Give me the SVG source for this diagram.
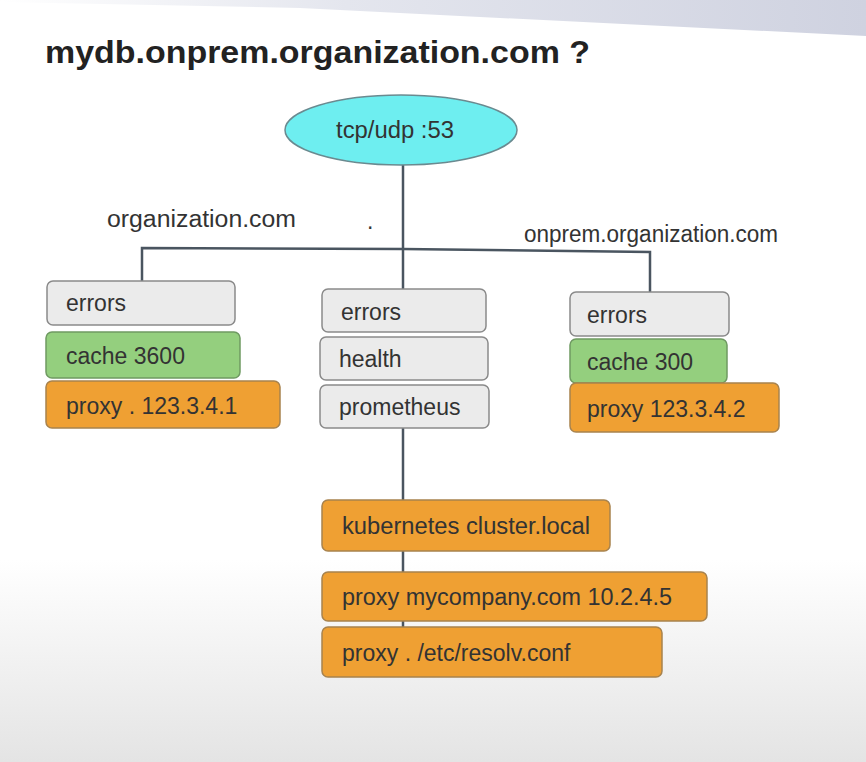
<svg xmlns="http://www.w3.org/2000/svg" width="866" height="762" viewBox="0 0 866 762">
<defs>
<linearGradient id="bot" x1="0" y1="0" x2="0" y2="1">
<stop offset="0" stop-color="#ffffff"/>
<stop offset="1" stop-color="#e4e4e4"/>
</linearGradient>
<linearGradient id="top" x1="0" y1="0" x2="1" y2="0">
<stop offset="0" stop-color="#ffffff"/>
<stop offset="0.4" stop-color="#e4e6ee"/>
<stop offset="1" stop-color="#cfd2e0"/>
</linearGradient>
<style>
.t{font-family:"Liberation Sans",Arial,sans-serif;font-size:23px;fill:#333}
.g{fill:#ebebeb;stroke:#8a8a8a;stroke-width:1.5}
.c{fill:#94cf7e;stroke:#6f9a62;stroke-width:1.5}
.o{fill:#efa033;stroke:#a8834e;stroke-width:1.5}
.ln{stroke:#4a5560;stroke-width:2.5;fill:none}
</style>
</defs>
<rect width="866" height="762" fill="#ffffff"/>
<rect x="0" y="560" width="866" height="202" fill="url(#bot)"/>
<polygon points="0,0 866,0 866,36 300,8 0,2" fill="url(#top)"/>
<text x="45" y="63" font-family="Liberation Sans,Arial,sans-serif" font-size="31" font-weight="bold" fill="#222" textLength="545" lengthAdjust="spacingAndGlyphs">mydb.onprem.organization.com ?</text>
<g id="connectors">
<path class="ln" d="M403 165 V290"/>
<path class="ln" d="M142 282 V248 L403 249 L650 252 V292"/>
<path class="ln" d="M403 428 V500"/>
<path class="ln" d="M403 551 V572"/>
<path class="ln" d="M403 621 V627"/>
</g>
<g id="root">
<ellipse cx="401" cy="130" rx="116" ry="35" fill="#6eeef0" stroke="#6a8a90" stroke-width="1.5"/>
<text class="t" x="395" y="138" text-anchor="middle" textLength="118" lengthAdjust="spacingAndGlyphs">tcp/udp :53</text>
</g>
<g id="labels">
<text class="t" x="107" y="227" textLength="189" lengthAdjust="spacingAndGlyphs">organization.com</text>
<text class="t" x="367" y="229">.</text>
<text class="t" x="524" y="242" textLength="254" lengthAdjust="spacingAndGlyphs">onprem.organization.com</text>
</g>
<g id="left-errors"><rect class="g" x="47" y="281" width="188" height="44" rx="6"/><text class="t" x="66" y="311">errors</text></g>
<g id="left-cache"><rect class="c" x="46" y="332" width="194" height="46" rx="6"/><text class="t" x="66" y="364">cache 3600</text></g>
<g id="left-proxy"><rect class="o" x="46" y="381" width="234" height="47" rx="6"/><text class="t" x="66" y="414">proxy . 123.3.4.1</text></g>
<g id="mid-errors"><rect class="g" x="322" y="289" width="164" height="43" rx="6"/><text class="t" x="341" y="320">errors</text></g>
<g id="mid-health"><rect class="g" x="320" y="337" width="168" height="43" rx="6"/><text class="t" x="339" y="367">health</text></g>
<g id="mid-prometheus"><rect class="g" x="320" y="385" width="169" height="43" rx="6"/><text class="t" x="339" y="415">prometheus</text></g>
<g id="right-errors"><rect class="g" x="570" y="292" width="159" height="44" rx="6"/><text class="t" x="587" y="323">errors</text></g>
<g id="right-cache"><rect class="c" x="570" y="339" width="157" height="44" rx="6"/><text class="t" x="587" y="370">cache 300</text></g>
<g id="right-proxy"><rect class="o" x="570" y="383" width="209" height="49" rx="6"/><text class="t" x="587" y="417">proxy 123.3.4.2</text></g>
<g id="kubernetes"><rect class="o" x="322" y="500" width="288" height="51" rx="6"/><text class="t" x="342" y="534" textLength="248" lengthAdjust="spacingAndGlyphs">kubernetes cluster.local</text></g>
<g id="proxy-mycompany"><rect class="o" x="322" y="572" width="385" height="49" rx="6"/><text class="t" x="342" y="605" textLength="330" lengthAdjust="spacingAndGlyphs">proxy mycompany.com 10.2.4.5</text></g>
<g id="proxy-resolv"><rect class="o" x="322" y="627" width="340" height="50" rx="6"/><text class="t" x="342" y="661">proxy . /etc/resolv.conf</text></g>
</svg>
